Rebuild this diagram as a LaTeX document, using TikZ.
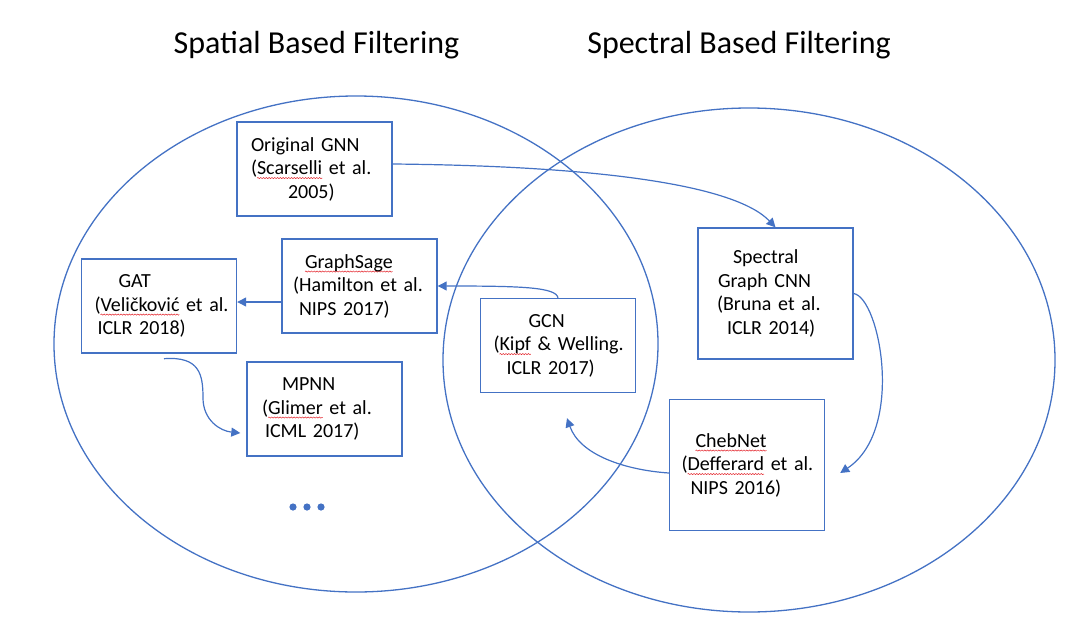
\documentclass[tikz,border=0pt]{standalone}
\usepackage{fontspec}
\setmainfont{Carlito}
\usepackage{tikz}
\usetikzlibrary{arrows.meta,decorations.pathmorphing}

\definecolor{msblue}{HTML}{4472C4}
\definecolor{squigred}{HTML}{E3242B}

\tikzset{wavy/.style = {draw=squigred, line width=0.5pt, decorate, decoration={snake, amplitude=0.6pt, segment length=2.8pt}}}

% spell-check underline
\newlength{\sqlen}
\newcommand{\sq}[1]{\settowidth{\sqlen}{#1}\rlap{\tikz[overlay,baseline=0pt]\draw[wavy] (0pt,-3.5pt) -- (\sqlen,-3.5pt);}#1}

\begin{document}
\begin{tikzpicture}[x=1pt, y=-1pt,
  box/.style = {draw=msblue, line width=1.4pt, rectangle, inner xsep=0pt, inner ysep=2pt, text width=155pt, minimum height=94pt, align=left, font=\fontsize{20}{23.5}\selectfont},
  tall/.style = {box, minimum height=131pt},
  title/.style = {anchor=base, font=\fontsize{32}{38}\selectfont},
  ring/.style = {draw=msblue, line width=1.3pt},
  arr/.style = {draw=msblue, line width=1.2pt, -{Triangle[length=9pt,width=9pt]}}]
\useasboundingbox (0,0) rectangle (1070,621);

\node[title] (spatial) at (316.5,53) {Spatial Based Filtering};
\node[title] (spectral) at (739,53) {Spectral Based Filtering};

\draw[ring] (356,344) ellipse [x radius=302pt, y radius=248pt];
\draw[ring] (749,360) ellipse [x radius=306pt, y radius=252pt];

\node[box] (orig) at (314.5,169) {\hspace*{14pt}Original GNN\\\hspace*{14pt}(\sq{Scarselli} et al.\\\hspace*{51pt}2005)};
\node[box] (gsage) at (359.5,286) {\hspace*{23pt}\sq{GraphSage}\\\hspace*{11pt}(Hamilton et al.\\\hspace*{17pt}NIPS 2017)};
\node[box] (gat) at (159,306) {\hspace*{37pt}GAT\\\hspace*{13pt}(\sq{Veličković} et al.\\\hspace*{16pt}ICLR 2018)};
\node[box] (mpnn) at (324.5,409) {\hspace*{35pt}MPNN\\\hspace*{15pt}(\sq{Glimer} et al.\\\hspace*{18pt}ICML 2017)};
\node[box] (gcn) at (558,345.5) {\hspace*{48pt}GCN\\\hspace*{13pt}(\sq{Kipf} \& Welling.\\\hspace*{26pt}ICLR 2017)};
\node[tall] (spec) at (775.5,293.5) {\hspace*{35pt}Spectral\\\hspace*{20pt}Graph CNN\\\hspace*{19pt}(Bruna et al.\\\hspace*{29pt}ICLR 2014)};
\node[tall] (cheb) at (747,465) {\hspace*{26pt}\sq{ChebNet}\\\hspace*{12pt}(\sq{Defferard} et al.\\\hspace*{21pt}NIPS 2016)};

\foreach \x in {293,307,321}
  \fill[msblue] (\x,507) circle [radius=3.6pt];

\draw[arr] ([yshift=5pt]orig.east) .. controls (600,166) and (735,185) .. (spec.north);
\draw[arr] ([yshift=-16pt]gsage.west) -- ([yshift=4pt]gat.east);
\draw[arr] (gcn.north) .. controls (556,287) and (520,286) .. (gsage.east);
\draw[arr] (spec.east) .. controls (880,298) and (905,430) .. ([xshift=15pt,yshift=-8pt]cheb.east);
\draw[arr] ([yshift=-8pt]cheb.west) .. controls (625,470) and (580,455) .. ([xshift=9pt,yshift=-25pt]gcn.south);
\draw[arr] ([xshift=5pt,yshift=-5pt]gat.south) .. controls (200,356) and (203,375) .. (203,398) .. controls (203,420) and (220,431) .. ([xshift=-6pt,yshift=-24pt]mpnn.west);
\end{tikzpicture}
\end{document}
